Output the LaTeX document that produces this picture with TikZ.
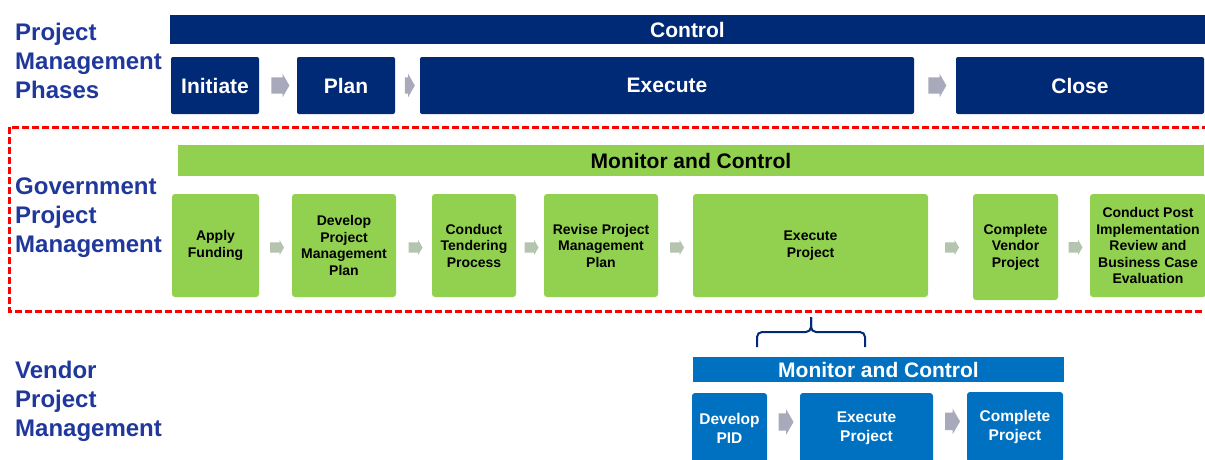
\documentclass[tikz,border=0pt]{standalone}
\usepackage{fontspec}
\setmainfont{Liberation Sans}
\usepackage{tikz}
\usetikzlibrary{shapes.arrows}

\definecolor{navy}{RGB}{0,41,118}
\definecolor{labelblue}{RGB}{32,56,156}
\definecolor{govgreen}{RGB}{146,208,80}
\definecolor{vendorblue}{RGB}{0,112,192}
\definecolor{phasegray}{RGB}{168,170,188}
\definecolor{greengray}{RGB}{180,196,174}

\begin{document}
\begin{tikzpicture}[x=1pt, y=-1pt, inner sep=0pt,
	phase/.style={rectangle, rounded corners=2pt, fill=navy, text=white, font=\fontsize{21}{25}\selectfont\bfseries},
	govbox/.style={rectangle, rounded corners=3pt, fill=govgreen, text=black, align=center, font=\fontsize{14}{16.5}\selectfont\bfseries},
	vendbox/.style={rectangle, rounded corners=3pt, fill=vendorblue, text=white, align=center, font=\fontsize{15.5}{19}\selectfont\bfseries},
	rowlabel/.style={anchor=west, align=left, text=labelblue, font=\fontsize{24}{29}\selectfont\bfseries},
	flowarrow/.style={single arrow, draw=none, inner xsep=0pt, single arrow tip angle=120},
	phasearrow/.style={flowarrow, fill=phasegray, inner ysep=8pt, minimum height=18pt, single arrow head extend=3.5pt},
	govarrow/.style={flowarrow, fill=greengray, inner ysep=5pt, minimum height=14pt, single arrow head extend=2.5pt},
	vendarrow/.style={flowarrow, fill=phasegray, inner ysep=8.5pt, minimum height=15pt, single arrow head extend=4pt}]

	\clip (0,0) rectangle (1205,459);
	\fill[white] (0,0) rectangle (1205,459);

	\node[rowlabel](PhLabel) at (15,61) {Project\\Management\\Phases};
	\node[rowlabel](GovLabel) at (15,218) {Government\\Project\\Management};
	\node[rowlabel](VenLabel) at (15,401) {Vendor\\Project\\Management};

	\node[phase, rounded corners=0pt, minimum width=1035pt, minimum height=29pt](Control) at (687.5,29.5) {Control};

	\node[phase, minimum width=88pt, minimum height=57pt](Initiate) at (215,85.5) {Initiate};
	\node[phase, minimum width=98pt, minimum height=57pt](Plan) at (346,85.5) {Plan};
	\node[phase, minimum width=494pt, minimum height=57pt](Execute) at (667,85.5) {Execute};
	\node[phase, minimum width=248pt, minimum height=57pt](Close) at (1080,85.5) {Close};

	\path (Initiate) -- (Plan) node[midway, phasearrow] {};
	\path (Plan) -- (Execute) node[midway, phasearrow, minimum height=10pt] {};
	\path (Execute) -- (Close) node[midway, phasearrow] {};

	\draw[red, line width=3pt, dash pattern=on 7pt off 3pt] (9,127) rectangle (1225,311);

	\node[govbox, rounded corners=0pt, minimum width=1026pt, minimum height=31pt, font=\fontsize{21}{25}\selectfont\bfseries](GovMC) at (691,160.5) {Monitor and Control};

	\node[govbox, minimum width=87pt, minimum height=103pt](ApplyFund) at (215.5,245.5) {Apply\\Funding};
	\node[govbox, minimum width=104pt, minimum height=103pt](DevPlan) at (344,245.5) {Develop\\Project\\Management\\Plan};
	\node[govbox, minimum width=84pt, minimum height=103pt](Tender) at (474,245.5) {Conduct\\Tendering\\Process};
	\node[govbox, minimum width=114pt, minimum height=103pt](RevPlan) at (601,245.5) {Revise Project\\Management\\Plan};
	\node[govbox, minimum width=235pt, minimum height=103pt](GovExec) at (810.5,245.5) {Execute\\Project};
	\node[govbox, minimum width=85pt, minimum height=106pt](CompVendor) at (1015.5,247) {Complete\\Vendor\\Project};
	\node[govbox, minimum width=116pt, minimum height=103pt](PostReview) at (1148,245.5) {Conduct Post\\Implementation\\Review and\\Business Case\\Evaluation};

	\path (ApplyFund) -- (DevPlan) node[midway, govarrow, yshift=-2pt] {};
	\path (DevPlan) -- (Tender) node[midway, govarrow, yshift=-2pt] {};
	\path (Tender) -- (RevPlan) node[midway, govarrow, yshift=-2pt] {};
	\path (RevPlan) -- (GovExec) node[midway, govarrow, yshift=-2pt] {};
	\path (GovExec) -- (CompVendor) node[midway, govarrow, yshift=-1pt] {};
	\path (CompVendor) -- (PostReview) node[midway, govarrow, yshift=-1pt] {};

	\draw[navy, line width=2pt, rounded corners=5pt] (757,347) -- (757,332) -- (811,332) -- (811,317);
	\draw[navy, line width=2pt, rounded corners=5pt] (865,347) -- (865,332) -- (811,332) -- (811,317);

	\node[vendbox, rounded corners=0pt, minimum width=371pt, minimum height=25pt, font=\fontsize{21}{25}\selectfont\bfseries](VenMC) at (878.5,369.5) {Monitor and Control};

	\node[vendbox, minimum width=75pt, minimum height=70pt](DevPID) at (729.5,428) {Develop\\PID};
	\node[vendbox, minimum width=133pt, minimum height=70pt](VenExec) at (866.5,428) {Execute\\Project};
	\node[vendbox, minimum width=96pt, minimum height=70pt](CompProj) at (1015,427) {Complete\\Project};

	\path (DevPID) -- (VenExec) node[midway, vendarrow, yshift=6pt] {};
	\path (VenExec) -- (CompProj) node[midway, vendarrow, yshift=6pt] {};
\end{tikzpicture}
\end{document}
